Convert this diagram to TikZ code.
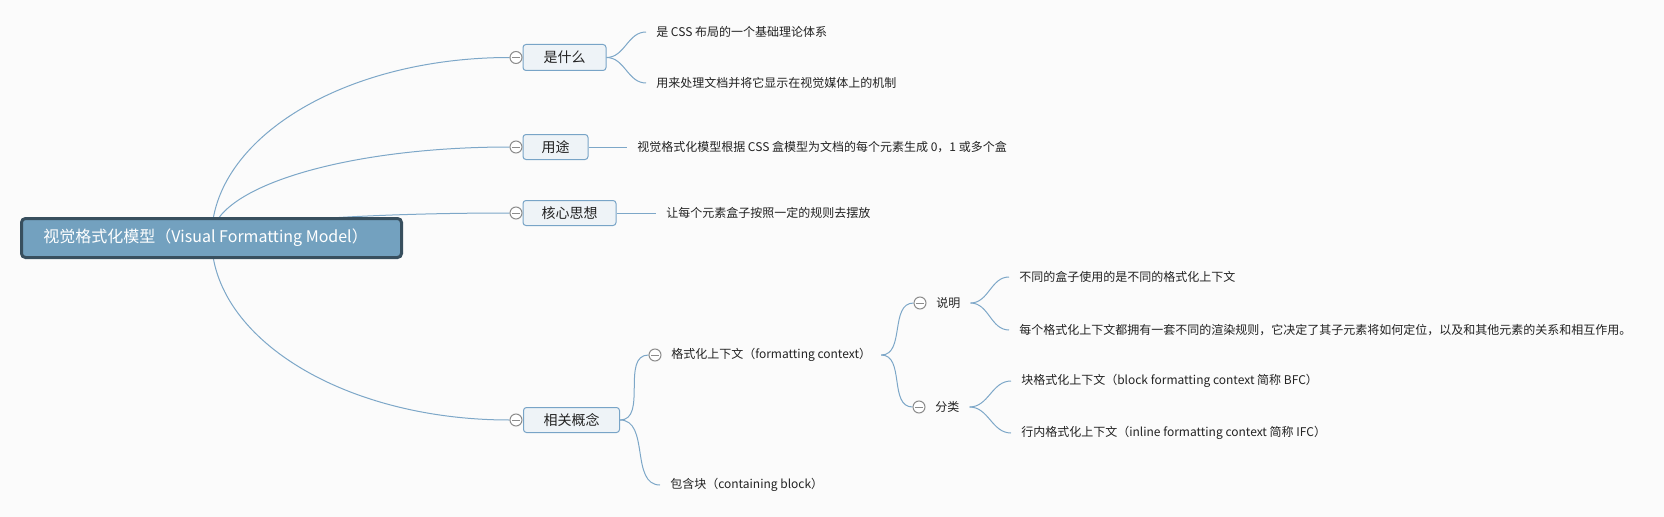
\documentclass[tikz,border=0pt]{standalone}
\usepackage{fontspec}
\setmainfont{Noto Sans CJK SC}
\usetikzlibrary{calc}
\pgfdeclarelayer{bg}
\pgfdeclarelayer{edges}
\pgfsetlayers{bg,edges,main}
\definecolor{bgc}{RGB}{251,251,251}
\definecolor{rootfill}{RGB}{115,161,191}
\definecolor{rootdraw}{RGB}{56,79,94}
\definecolor{boxfill}{RGB}{238,243,247}
\definecolor{boxdraw}{RGB}{120,164,199}
\definecolor{linec}{RGB}{125,167,200}
\definecolor{circc}{RGB}{140,140,140}
\definecolor{txt}{RGB}{34,34,34}
\begin{document}
\begin{tikzpicture}[x=0.75pt,y=-0.75pt,
  rootbox/.style={draw=rootdraw, fill=rootfill, line width=2.25pt, rounded corners=3pt,
    minimum width=285pt, minimum height=29.25pt, inner sep=0pt},
  roottext/.style={anchor=west, inner sep=0pt, text=white, font=\fontsize{12}{14}\selectfont},
  topic/.style={draw=boxdraw, fill=boxfill, line width=0.75pt, rounded corners=2.25pt,
    minimum height=18.75pt, anchor=west, inner sep=0pt, text=txt, font=\fontsize{10.5}{12}\selectfont},
  collapse/.style={circle, draw=circc, fill=white, line width=0.75pt, minimum size=9pt, inner sep=0pt,
    path picture={\draw[circc, line width=0.75pt] ([xshift=-3pt]path picture bounding box.center) -- ([xshift=3pt]path picture bounding box.center);}},
  leaf/.style={anchor=west, inner xsep=7.5pt, inner ysep=2pt, text=txt, font=\fontsize{9}{11}\selectfont},
  edge/.style={draw=linec, line width=0.75pt}
]
\useasboundingbox (0,0) rectangle (1664,517);
\begin{pgfonlayer}{bg}
\fill[bgc] (0,0) rectangle (1664,517);
\end{pgfonlayer}

% root
\node[rootbox] (root) at (211.5,238) {};
\node[roottext] (roott) at (43,238) {视觉格式化模型（Visual Formatting Model）};

% main topics
\node[topic, minimum width=62.25pt, minimum height=19.5pt] (t1) at (522.5,57.5) {是什么};
\node[topic, minimum width=48.75pt] (t2) at (522.5,147) {用途};
\node[topic, minimum width=69.75pt] (t3) at (522.5,213) {核心思想};
\node[topic, minimum width=72pt] (t4) at (523,420) {相关概念};

% collapse markers
\node[collapse] (c1) at (516,57.5) {};
\node[collapse] (c2) at (516,147) {};
\node[collapse] (c3) at (516,213) {};
\node[collapse] (c4) at (516,420) {};
\node[collapse] (c5) at (655,355) {};
\node[collapse] (c6) at (920,303) {};
\node[collapse] (c7) at (919,407) {};

% leaves and subtopics
\node[leaf] (l1) at (646,32) {是 CSS 布局的一个基础理论体系};
\node[leaf] (l2) at (646,83) {用来处理文档并将它显示在视觉媒体上的机制};
\node[leaf] (l3) at (627,147) {视觉格式化模型根据 CSS 盒模型为文档的每个元素生成 0，1 或多个盒};
\node[leaf] (l4) at (656,213) {让每个元素盒子按照一定的规则去摆放};
\node[leaf] (f) at (661,355) {格式化上下文（formatting context）};
\node[leaf] (l5) at (660,485) {包含块（containing block）};
\node[leaf] (sm) at (926,303) {说明};
\node[leaf] (fl) at (925,407) {分类};
\node[leaf] (s1) at (1009,277) {不同的盒子使用的是不同的格式化上下文};
\node[leaf] (s2) at (1009,330) {每个格式化上下文都拥有一套不同的渲染规则，它决定了其子元素将如何定位，以及和其他元素的关系和相互作用。};
\node[leaf] (d1) at (1011,381) {块格式化上下文（block formatting context 简称 BFC）};
\node[leaf] (d2) at (1011,433) {行内格式化上下文（inline formatting context 简称 IFC）};

\begin{pgfonlayer}{edges}
\draw[edge] (root.center) .. controls ($(root.center)+(0,-99.7)$) and ($(c1.west)+(-165,0)$) .. (c1.west);
\draw[edge] (root.center) .. controls ($(root.center)+(0,-50.3)$) and ($(c2.west)+(-165,0)$) .. (c2.west);
\draw[edge] (root.center) .. controls ($(root.center)+(0,-13.8)$) and ($(c3.west)+(-165,0)$) .. (c3.west);
\draw[edge] (root.center) .. controls ($(root.center)+(0,100.5)$) and ($(c4.west)+(-165,0)$) .. (c4.west);
\draw[edge] (t1.east) to[out=0,in=180] (l1.west);
\draw[edge] (t1.east) to[out=0,in=180] (l2.west);
\draw[edge] (t2.east) -- (l3.west);
\draw[edge] (t3.east) -- (l4.west);
\draw[edge] (t4.east) to[out=0,in=180] (c5.west);
\draw[edge] (t4.east) to[out=0,in=180] (l5.west);
\draw[edge] (f.east) to[out=0,in=180] (c6.west);
\draw[edge] (f.east) to[out=0,in=180] (c7.west);
\draw[edge] (sm.east) to[out=0,in=180] (s1.west);
\draw[edge] (sm.east) to[out=0,in=180] (s2.west);
\draw[edge] (fl.east) to[out=0,in=180] (d1.west);
\draw[edge] (fl.east) to[out=0,in=180] (d2.west);
\end{pgfonlayer}
\end{tikzpicture}
\end{document}
